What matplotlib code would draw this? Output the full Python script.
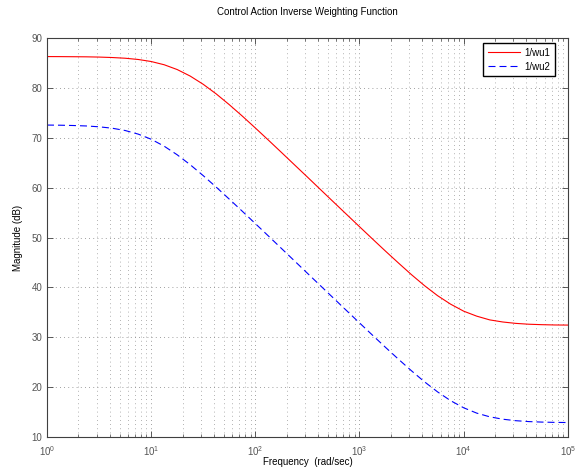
"""Bode magnitude of the inverse control-action weighting functions."""

import matplotlib
matplotlib.use("Agg")
import matplotlib.pyplot as plt
from matplotlib.ticker import LogLocator, MultipleLocator, NullFormatter

plt.rcParams["font.family"] = ["Liberation Sans", "DejaVu Sans"]

# frequencies (rad/sec), eighth-decade steps
freq = [1, 1.334, 1.778, 2.371, 3.162, 4.217, 5.623, 7.499,
        10, 13.34, 17.78, 23.71, 31.62, 42.17, 56.23, 74.99,
        100, 133.4, 177.8, 237.1, 316.2, 421.7, 562.3, 749.9,
        1000, 1334, 1778, 2371, 3162, 4217, 5623, 7499,
        10000, 13340, 17780, 23710, 31620, 42170, 56230, 74990, 100000]

# magnitude in dB
mag_wu1 = [86.29, 86.28, 86.26, 86.24, 86.19, 86.10, 85.96, 85.71,
           85.30, 84.65, 83.69, 82.38, 80.73, 78.80, 76.65, 74.36,
           71.98, 69.55, 67.09, 64.61, 62.14, 59.64, 57.15, 54.67,
           52.19, 49.72, 47.28, 44.89, 42.55, 40.35, 38.35, 36.65,
           35.25, 34.25, 33.50, 33.08, 32.80, 32.63, 32.54, 32.48, 32.46]
mag_wu2 = [72.56, 72.53, 72.47, 72.38, 72.21, 71.93, 71.47, 70.75,
           69.72, 68.32, 66.60, 64.61, 62.42, 60.11, 57.71, 55.28,
           52.81, 50.33, 47.84, 45.35, 42.85, 40.36, 37.87, 35.38,
           32.90, 30.43, 27.99, 25.60, 23.28, 21.07, 19.06, 17.30,
           15.88, 14.81, 14.07, 13.59, 13.29, 13.11, 13.01, 12.95, 12.92]

labels = ["1/wu1", "1/wu2"]

fig = plt.figure(figsize=(5.8, 4.7), dpi=100)
ax = fig.add_axes([0.081, 0.070, 0.898, 0.849])

ax.semilogx(freq, mag_wu1, color="#ff0000", lw=0.8, label=labels[0])
ax.semilogx(freq, mag_wu2, color="#0000ff", lw=0.8, dashes=(6.3, 3.6), label=labels[1])

ax.set_xlim(1, 1e5)
ax.set_ylim(10, 90)
ax.yaxis.set_major_locator(MultipleLocator(10))
ax.xaxis.set_major_locator(LogLocator(base=10, numticks=10))
ax.xaxis.set_minor_locator(LogLocator(base=10, subs=range(2, 10), numticks=20))
ax.xaxis.set_minor_formatter(NullFormatter())

dots = (0, (1, 4))
ax.grid(True, which="major", axis="both", linestyle=dots, color="0.5", lw=0.6)
ax.grid(True, which="minor", axis="x", linestyle=dots, color="0.6", lw=0.6)

ax.tick_params(which="both", direction="in", top=True, right=True, colors="#404040",
               labelcolor="#555555", labelsize=7)
ax.tick_params(which="major", length=4, width=0.6)
ax.tick_params(which="minor", length=2, width=0.5)
ax.tick_params(axis="x", which="major", pad=5)
for s in ax.spines.values():
    s.set_color("#404040")
    s.set_linewidth(0.8)

ax.set_title("Control Action Inverse Weighting Function", fontsize=7, pad=16.5)
ax.set_xlabel("Frequency  (rad/sec)", fontsize=7, labelpad=-0.5)
ax.set_ylabel("Magnitude (dB)", fontsize=7, labelpad=6)

leg = ax.legend(loc="upper right", bbox_to_anchor=(0.975, 0.987), borderaxespad=0,
                fontsize=7, fancybox=False, framealpha=1, edgecolor="black",
                handlelength=3.3, handletextpad=0.5, borderpad=0.45, labelspacing=0.4)
leg.get_frame().set_linewidth(1.0)

fig.savefig("out.png", dpi=100)
